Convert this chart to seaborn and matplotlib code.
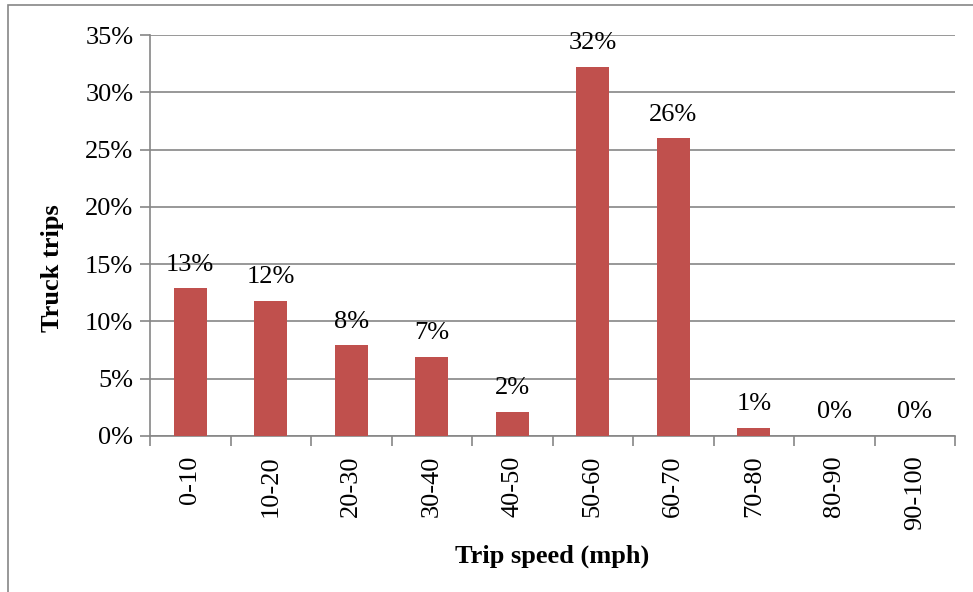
import matplotlib
matplotlib.use("Agg")
import matplotlib.pyplot as plt
import numpy as np
import pandas as pd
import seaborn as sns
from matplotlib.patches import Rectangle
from matplotlib.ticker import FixedLocator, PercentFormatter

speed_bins = ["0-10", "10-20", "20-30", "30-40", "40-50",
              "50-60", "60-70", "70-80", "80-90", "90-100"]
trip_share = [12.9, 11.8, 7.9, 6.9, 2.1, 32.2, 26.0, 0.7, 0.0, 0.0]

sns.set_theme(style="white")
plt.rcParams["font.family"] = ["Liberation Serif", "DejaVu Serif"]
plt.rcParams["text.color"] = "black"
plt.rcParams["xtick.color"] = "black"
plt.rcParams["ytick.color"] = "black"
plt.rcParams["axes.labelcolor"] = "black"

df = pd.DataFrame({"speed": speed_bins, "share": trip_share})

fig = plt.figure(figsize=(9.73, 5.92), dpi=100)
ax = fig.add_axes([150 / 973, 156 / 592, 805 / 973, 401 / 592])

grid_color = "#868686"
fs = 19
sns.barplot(data=df, x="speed", y="share", color="#C0504D", saturation=1,
            width=0.41, linewidth=0, ax=ax, zorder=3)

ax.set_ylim(0, 35)
ax.set_xlim(-0.5, len(speed_bins) - 0.5)
ax.yaxis.set_major_locator(FixedLocator(np.arange(0, 36, 5)))
ax.yaxis.set_major_formatter(PercentFormatter(decimals=0))
ax.grid(axis="y", color=grid_color, linewidth=1.2, zorder=0)
ax.set_axisbelow(True)

for side in ["top", "right"]:
    ax.spines[side].set_visible(False)
for side in ["left", "bottom"]:
    ax.spines[side].set_color(grid_color)
    ax.spines[side].set_linewidth(1.2)

ax.tick_params(axis="y", which="major", left=True, length=7, color=grid_color,
               width=1.2, labelsize=fs, pad=5, labelcolor="black")
ax.tick_params(axis="x", which="major", length=0, labelsize=fs, rotation=90, pad=14,
               labelcolor="black")
ax.set_xticks(np.arange(-0.5, len(speed_bins)), minor=True)
ax.tick_params(axis="x", which="minor", bottom=True, length=7, color=grid_color, width=1.2)

for i, v in enumerate(trip_share):
    ax.text(i, v + 1.1, f"{v:.0f}%", ha="center", va="bottom", fontsize=fs,
            color="black")

ax.set_xlabel("Trip speed (mph)", fontsize=fs, fontweight="bold", labelpad=10)
ax.set_ylabel("Truck trips", fontsize=fs, fontweight="bold", labelpad=15)
ax.yaxis.label.set_y(0.419)

fig.patches.append(Rectangle((8 / 973, -0.1), 1.2, 1.1 - 5 / 592,
                             transform=fig.transFigure, fill=False,
                             edgecolor=grid_color, linewidth=1.2))

fig.savefig("out.png", dpi=100)
